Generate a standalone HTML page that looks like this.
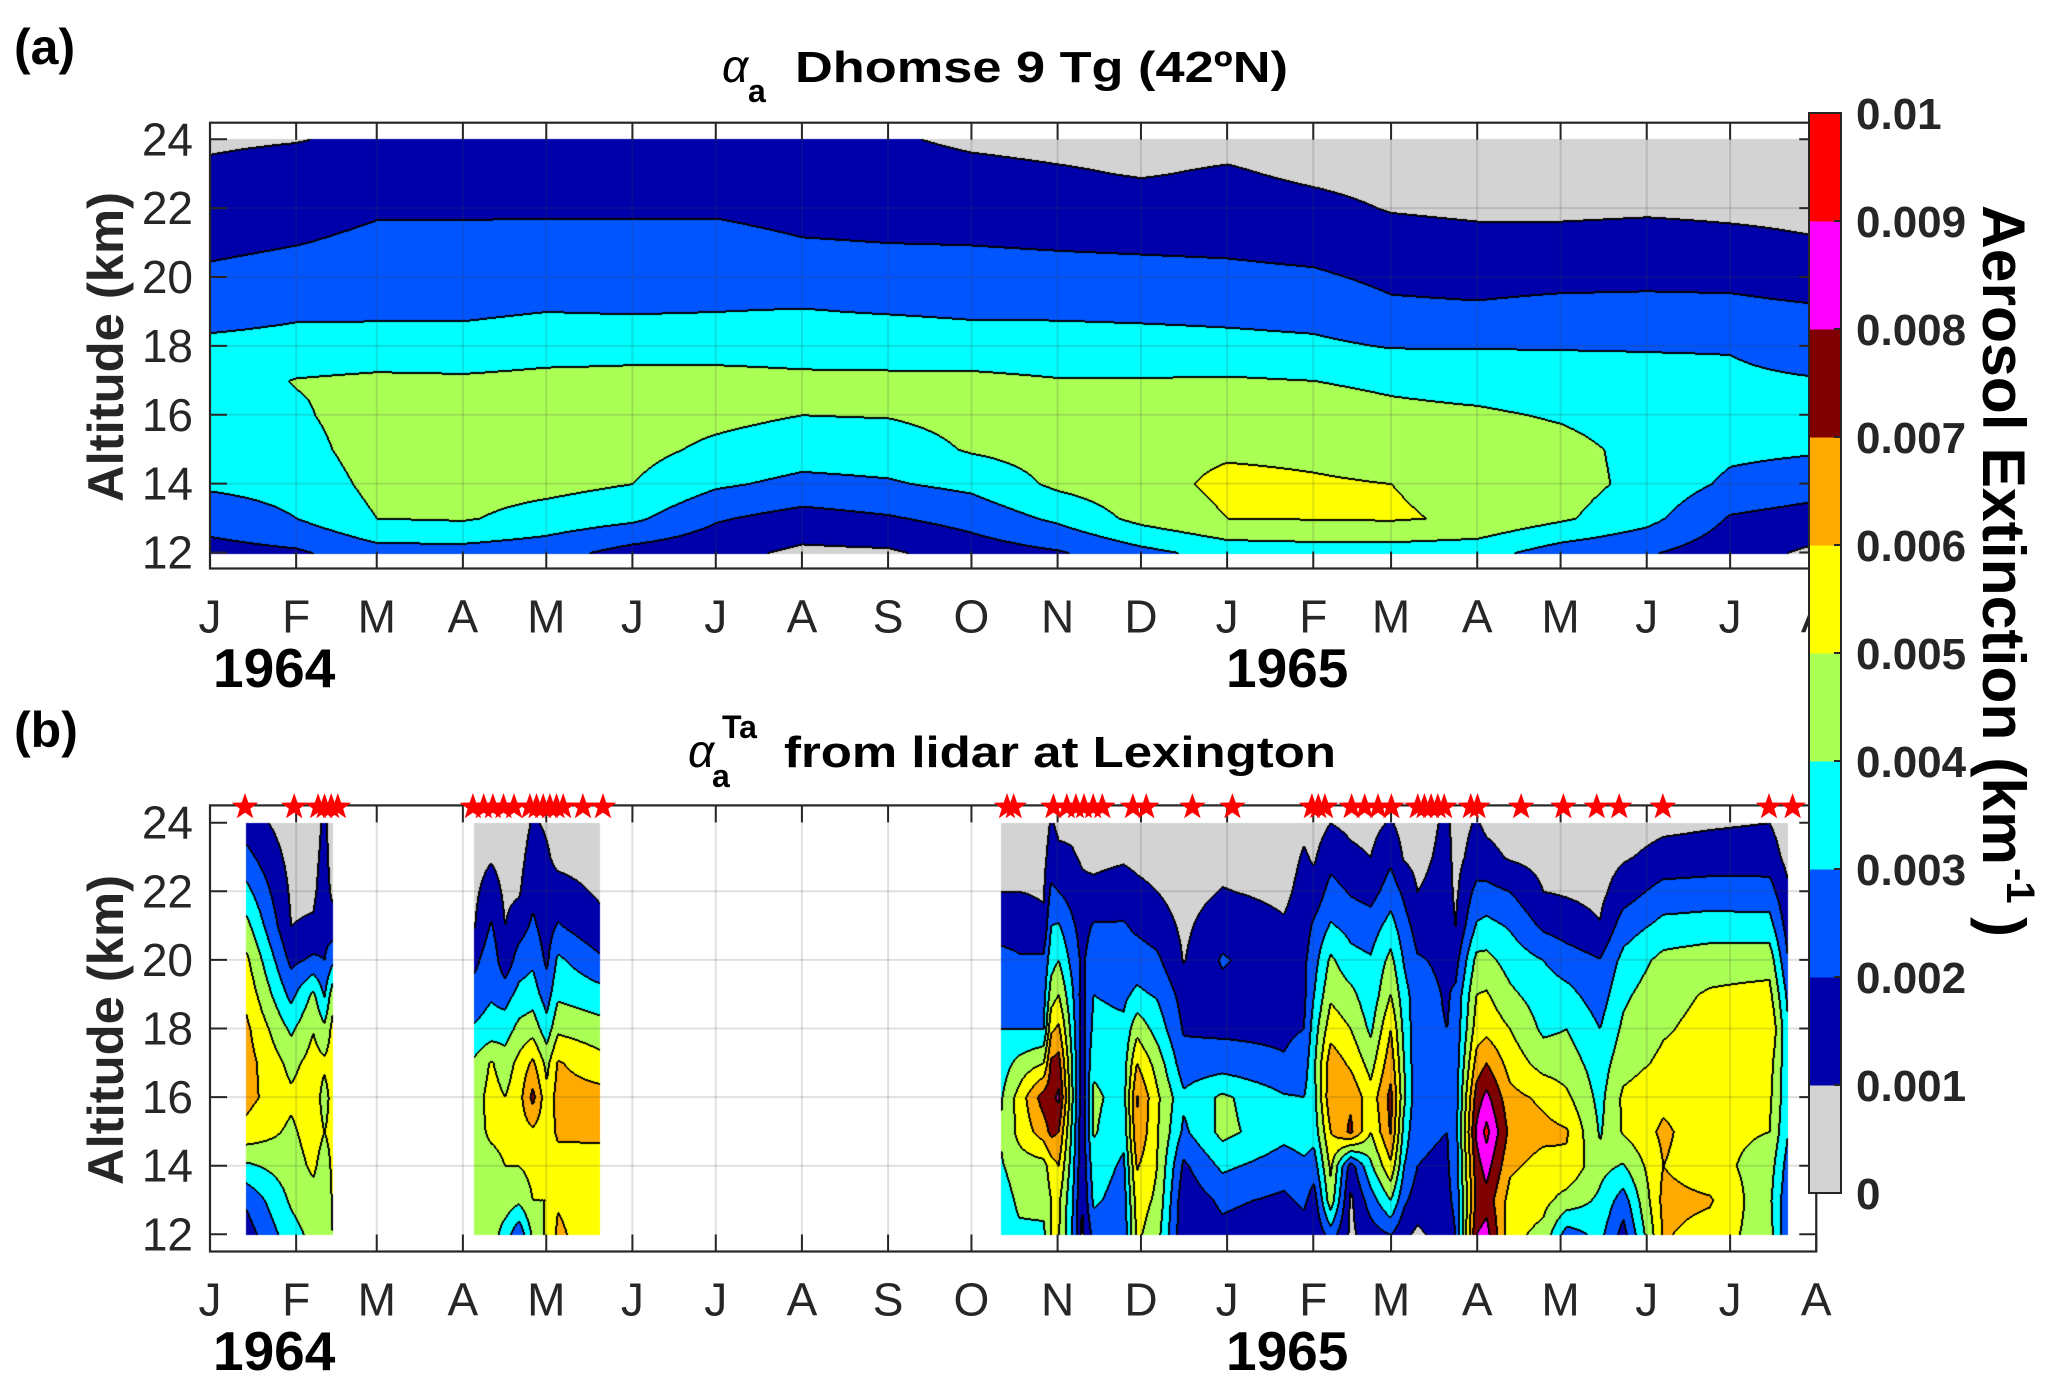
<!DOCTYPE html>
<html><head><meta charset="utf-8">
<style>
html,body{margin:0;padding:0;background:#fff;}
#wrap{position:relative;width:2067px;height:1388px;overflow:hidden;}
canvas,svg{position:absolute;left:0;top:0;}
text{font-family:"Liberation Sans",Arial,sans-serif;}
</style></head>
<body>
<div id="wrap">
<canvas id="cv" width="2067" height="1388"></canvas>
<svg id="sv" width="2067" height="1388" xmlns="http://www.w3.org/2000/svg">
  <g id="gridA"></g>
  <g id="gridB"></g>
  <g id="axesA"></g>
  <g id="axesB"></g>
  <g id="stars"></g>
  <g id="cbar"></g>

  <text x="14" y="64" font-size="50" font-weight="bold" fill="#000">(a)</text>
  <text x="14" y="747" font-size="50" font-weight="bold" fill="#000">(b)</text>

  <g>
    <text x="722" y="82" font-size="46" font-style="italic" font-family="Liberation Serif,serif" fill="#000">α</text>
    <text x="748" y="102" font-size="32" font-weight="bold" fill="#000">a</text>
    <text x="795" y="82" font-size="44" font-weight="bold" fill="#000" textLength="493" lengthAdjust="spacingAndGlyphs">Dhomse 9 Tg  (42ºN)</text>
  </g>
  <g>
    <text x="688" y="767" font-size="46" font-style="italic" font-family="Liberation Serif,serif" fill="#000">α</text>
    <text x="712" y="787" font-size="32" font-weight="bold" fill="#000">a</text>
    <text x="722" y="738" font-size="32" font-weight="bold" fill="#000">Ta</text>
    <text x="784" y="767" font-size="44" font-weight="bold" fill="#000" textLength="552" lengthAdjust="spacingAndGlyphs">from lidar at Lexington</text>
  </g>

  <text transform="translate(123,347) rotate(-90)" text-anchor="middle" font-size="50" font-weight="bold" fill="#262626" textLength="310" lengthAdjust="spacingAndGlyphs">Altitude (km)</text>
  <text transform="translate(123,1030) rotate(-90)" text-anchor="middle" font-size="50" font-weight="bold" fill="#262626" textLength="310" lengthAdjust="spacingAndGlyphs">Altitude (km)</text>

  <text x="213" y="687" font-size="55" font-weight="bold" fill="#000">1964</text>
  <text x="1226" y="687" font-size="55" font-weight="bold" fill="#000">1965</text>
  <text x="213" y="1370" font-size="55" font-weight="bold" fill="#000">1964</text>
  <text x="1226" y="1370" font-size="55" font-weight="bold" fill="#000">1965</text>

  <g transform="translate(1983,205) rotate(90)">
    <text x="0" y="0" font-size="60" font-weight="bold" fill="#000" textLength="660" lengthAdjust="spacingAndGlyphs">Aerosol Extinction (km</text>
    <text x="663" y="-24" font-size="40" font-weight="bold" fill="#000">-1</text>
    <text x="712" y="0" font-size="60" font-weight="bold" fill="#000">)</text>
  </g>
</svg>
</div>
<script>
// ---------------- data ----------------
const monthDays = [0,31,60,91,121,152,182,213,244,274,305,335,366,397,425,456,486,517,547,578];
const monthLabels = ['J','F','M','A','M','J','J','A','S','O','N','D','J','F','M','A','M','J','J','A'];
const altTicks = [12,14,16,18,20,22,24];
const cbarTicks = ['0','0.001','0.002','0.003','0.004','0.005','0.006','0.007','0.008','0.009','0.01'];
const levelColors = ['#D3D3D3','#0000AA','#0055FF','#00FFFF','#AAFF55','#FFFF00','#FFAA00','#800000','#FF00FF','#FF0000'];

// panel (a): model field, units 0.001 km^-1; each row = profile at 12..24 km
const aDays = [0,31,60,91,121,152,182,213,244,274,305,335,366,397,425,456,486,517,547,578];
const aValues = [
 [1.6,2.45,3.15,3.4,3.6,3.5,3.25,2.6,2.2,1.77,1.45,1.13,0.9],
 [1.85,3.0,3.3,3.6,3.85,4.05,3.35,2.85,2.4,1.97,1.63,1.3,0.97],
 [2.6,4.0,4.3,4.5,4.5,4.2,3.4,2.85,2.5,2.2,1.9,1.5,1.15],
 [2.6,4.1,4.4,4.55,4.5,4.15,3.4,2.85,2.5,2.2,1.9,1.5,1.15],
 [2.4,3.6,4.3,4.5,4.5,4.25,3.6,3.0,2.6,2.25,1.9,1.5,1.15],
 [1.6,3.2,4.0,4.3,4.4,4.25,3.7,2.95,2.6,2.25,1.9,1.5,1.15],
 [1.3,2.1,3.15,3.8,4.25,4.25,3.7,3.0,2.6,2.25,1.9,1.5,1.15],
 [0.8,1.6,2.75,3.45,4.0,4.15,3.7,3.05,2.55,2.05,1.75,1.45,1.15],
 [0.85,1.9,2.9,3.5,4.05,4.15,3.65,2.95,2.5,2.0,1.7,1.4,1.1],
 [1.5,2.35,3.25,4.1,4.3,4.2,3.5,2.85,2.4,1.97,1.6,1.25,0.85],
 [1.9,3.2,4.2,4.4,4.4,4.05,3.45,2.85,2.35,1.9,1.5,1.1,0.75],
 [2.7,4.3,4.6,4.7,4.6,4.05,3.4,2.8,2.3,1.85,1.4,0.95,0.7],
 [3.4,5.0,5.25,4.85,4.6,4.1,3.3,2.75,2.25,1.8,1.45,1.1,0.75],
 [3.5,5.05,5.1,4.8,4.5,4.0,3.2,2.65,2.15,1.65,1.25,0.85,0.6],
 [3.5,5.1,5.0,4.6,4.25,3.8,2.95,2.2,1.8,1.35,0.95,0.7,0.5],
 [3.4,4.85,4.7,4.6,4.15,3.6,2.95,2.15,1.7,1.25,0.85,0.65,0.5],
 [2.5,4.15,4.4,4.3,3.9,3.4,2.95,2.3,1.75,1.25,0.85,0.65,0.5],
 [2.1,3.3,3.7,3.7,3.55,3.25,2.95,2.3,1.8,1.3,0.9,0.65,0.5],
 [1.4,1.9,2.8,3.2,3.3,3.15,2.95,2.3,1.75,1.2,0.85,0.65,0.5],
 [0.8,1.55,2.45,3.1,3.2,3.05,2.6,2.15,1.5,1.05,0.8,0.6,0.5]
];

// panel (b): lidar field, three observation periods
const bSeg1Days = [13,29,37,41,44];
const bSeg1Values = [
 [1.5,2.2,3.8,5.7,6.3,6.4,6.2,5.7,5.2,4.3,3.3,2.3,1.5],
 [3.6,4.15,4.5,4.8,5.2,4.7,3.8,2.7,1.75,1.0,0.85,0.7,0.5],
 [4.3,4.6,5.2,5.5,5.6,5.4,4.95,4.2,2.2,1.1,0.85,0.7,0.5],
 [4.6,4.3,4.5,5.0,4.6,5.2,4.2,2.9,2.0,1.6,1.4,1.3,1.2],
 [5.0,5.1,5.2,5.3,5.4,5.5,5.3,4.6,2.8,1.4,0.8,0.6,0.5]
];
const bSeg2Days = [95,101,106,111,116,121,125,140];
const bSeg2Values = [
 [4.6,4.3,4.5,4.6,4.5,4.2,3.1,2.5,1.7,0.95,0.8,0.6,0.5],
 [4.6,4.4,4.6,5.2,5.4,5.1,3.4,2.9,2.7,2.1,1.5,0.9,0.6],
 [3.5,4.6,5.0,5.3,5.0,4.5,3.5,2.6,1.3,1.0,0.8,0.6,0.5],
 [2.2,4.2,5.0,5.5,5.6,5.3,4.3,3.3,2.5,1.5,0.9,0.7,0.5],
 [4.2,5.0,5.3,5.8,7.3,6.2,4.6,3.5,2.8,2.2,1.7,1.4,1.1],
 [5.2,5.0,5.2,5.4,5.3,4.7,3.4,2.5,1.8,1.5,1.3,1.1,0.9],
 [6.2,5.9,5.5,6.2,6.4,6.1,4.8,3.8,3.2,2.1,1.3,0.8,0.6],
 [5.3,5.4,5.6,6.2,6.4,5.4,4.4,3.4,2.2,1.2,0.9,0.7,0.5]
];
const bSeg3Days = [284.5,291,299.8,302.5,305.2,310,313.6,317.8,328.6,333.4,340.6,350.2,364.1,386.3,393.5,397.1,403.1,410.3,417.5,424.7,429.5,434.3,445,448,455.6,459.2,467.6,479.6,488,500,508.4,522.8,539.6,561,567.5];
const bSeg3Values = [
 [3.4,3.5,3.9,4.1,3.9,3.5,3.0,2.6,2.3,1.6,1.0,0.7,0.5],
 [3.8,4.2,4.5,5.3,5.4,4.3,3.0,2.5,2.1,1.6,1.0,0.7,0.5],
 [3.8,4.3,4.6,6.5,7.5,5.0,3.0,2.6,2.2,1.2,0.9,0.7,0.5],
 [5.0,5.0,5.5,7.3,7.7,7.2,5.8,4.5,3.6,3.0,2.2,1.5,1.1],
 [5.1,5.2,6.0,7.0,8.2,7.4,6.2,5.0,4.0,3.1,2.0,1.2,0.8],
 [3.0,3.2,3.5,3.8,4.2,4.0,3.6,3.2,2.7,2.2,1.6,1.1,0.8],
 [0.8,1.0,1.2,1.3,1.4,1.4,1.5,1.6,1.8,1.6,1.2,0.9,0.6],
 [2.3,3.2,3.6,4.1,4.2,3.8,3.3,3.0,2.6,2.1,1.2,0.8,0.6],
 [2.3,2.5,2.8,3.3,3.6,3.5,3.2,2.8,2.5,2.1,1.4,0.9,0.6],
 [5.2,5.5,6.1,6.9,7.1,6.0,4.7,3.2,2.5,1.8,1.2,0.8,0.6],
 [4.4,4.8,5.0,5.1,5.2,4.6,3.6,2.9,2.2,1.5,1.0,0.7,0.5],
 [1.2,1.3,1.8,2.8,3.2,2.4,1.9,1.6,0.95,0.8,0.6,0.5,0.4],
 [1.7,2.2,3.2,4.3,4.2,2.5,1.8,1.7,2.1,1.6,1.05,0.7,0.5],
 [1.3,1.8,2.5,3.3,3.1,2.1,1.8,1.6,1.4,1.1,0.8,0.6,0.5],
 [1.5,2.2,2.8,3.5,3.0,2.5,2.0,1.8,1.8,1.5,1.3,1.1,0.8],
 [1.0,1.5,2.5,3.4,3.7,3.8,3.5,3.0,2.6,2.2,1.3,0.9,0.6],
 [2.5,4.6,5.2,6.0,6.8,6.6,5.6,4.8,4.2,3.1,2.4,1.6,1.0],
 [0.8,0.8,1.5,7.2,6.8,5.8,5.0,4.3,3.3,2.7,1.9,1.2,0.8],
 [1.5,2.5,3.8,5.0,5.4,4.6,3.8,3.3,3.1,2.5,1.6,1.0,0.7],
 [2.0,4.0,5.8,7.1,7.3,6.6,6.0,5.0,4.3,3.4,2.5,1.8,1.1],
 [1.2,2.2,3.0,3.6,4.2,4.0,3.7,3.4,2.9,2.4,1.8,0.9,0.6],
 [0.8,1.5,2.0,2.1,2.2,2.2,2.3,2.4,2.1,1.6,1.0,0.7,0.5],
 [1.5,1.8,1.9,2.0,2.0,2.0,2.0,1.9,1.8,1.6,1.4,1.3,1.2],
 [2.0,2.2,2.4,2.5,2.5,2.4,2.3,2.2,1.6,1.0,0.8,0.7,0.6],
 [8.0,7.3,7.6,8.2,7.5,6.4,5.5,5.0,4.3,3.1,2.3,1.4,1.1],
 [8.4,7.6,8.4,9.3,8.3,7.0,5.7,5.1,4.3,3.3,2.3,1.3,0.8],
 [5.3,5.6,6.2,6.7,6.3,5.6,5.0,4.2,3.6,2.9,2.0,0.9,0.6],
 [4.7,5.3,5.6,6.3,5.8,4.6,3.8,3.5,3.0,1.8,1.0,0.7,0.5],
 [2.5,4.6,5.8,6.1,5.2,4.5,4.0,3.3,2.5,1.5,0.9,0.6,0.5],
 [3.3,3.8,4.3,3.9,3.7,3.5,3.0,2.5,2.05,1.05,0.75,0.6,0.5],
 [1.6,2.5,3.9,5.1,5.2,4.6,4.2,3.8,3.3,2.5,1.5,0.9,0.6],
 [6.1,6.3,6.0,6.2,5.7,5.2,4.9,4.7,4.3,3.3,2.4,1.3,0.8],
 [5.6,6.1,5.4,5.3,5.6,5.4,5.3,5.1,4.6,3.4,2.5,1.4,0.9],
 [4.4,4.2,4.5,5.0,5.2,5.4,6.0,5.3,4.6,3.4,2.4,1.5,1.0],
 [2.2,2.3,2.6,3.1,3.3,3.3,3.2,2.8,2.1,1.6,1.2,0.7,0.5]
];

// lidar observation dates (days since 1 Jan 1964)
const starDays = [12.6,30.3,38.9,41.2,43.6,46.0,94.6,98.5,101.8,105.6,109.4,115.1,117.5,119.9,122.3,124.7,127.1,134.2,141.4,286.8,289.2,303.5,308.3,311.6,314.5,317.8,321.1,332.1,336.9,353.5,367.9,396.5,398.8,401.2,410.8,415.5,420.3,425.1,434.6,437.0,439.4,441.8,444.1,453.7,456.1,471.8,487.0,499.0,507.1,522.8,561.0,569.5];

// ---------------- geometry ----------------
const X0 = 210, PX_PER_DAY = 2.779, X_END_DAY = 578;
function xScale(d){ return X0 + d*PX_PER_DAY; }
const panelA = {boxTop:122.7, boxBot:568.5, y24:139.3, y12:552.5};
const panelB = {boxTop:805.4, boxBot:1251.5, y24:822.7, y12:1234.3};
function yScale(p, alt){ return p.y24 + (24-alt)*(p.y12-p.y24)/12; }
const boxRight = xScale(X_END_DAY);

// ---------------- contour field ----------------
const cv = document.getElementById('cv');
const ctx = cv.getContext('2d');
const W = cv.width, H = cv.height;
const lev = new Int8Array(W*H).fill(-1);

function fieldAt(days, vals, d, alt){
  let i = 0;
  while (i < days.length-2 && d > days[i+1]) i++;
  const t = Math.max(0, Math.min(1, (d-days[i])/(days[i+1]-days[i])));
  let zf = alt-12; let j = Math.floor(zf); if (j<0) j=0; if (j>11) j=11;
  const u = Math.max(0, Math.min(1, zf-j));
  const a = vals[i][j]*(1-u) + vals[i][j+1]*u;
  const b = vals[i+1][j]*(1-u) + vals[i+1][j+1]*u;
  return a*(1-t) + b*t;
}
function fillField(p, days, vals){
  const xa = Math.round(xScale(days[0])), xb = Math.min(Math.round(xScale(days[days.length-1])), Math.round(boxRight)-1);
  const ya = Math.round(p.y24), yb = Math.round(p.y12);
  for (let x = xa; x <= xb; x++){
    const d = (x - X0)/PX_PER_DAY;
    for (let y = ya; y <= yb; y++){
      const alt = 24 - (y - p.y24)*12/(p.y12-p.y24);
      const v = fieldAt(days, vals, d, alt);
      let L = Math.floor(v); if (L<0) L=0; if (L>9) L=9;
      lev[y*W+x] = L;
    }
  }
}
fillField(panelA, aDays, aValues);
fillField(panelB, bSeg1Days, bSeg1Values);
fillField(panelB, bSeg2Days, bSeg2Values);
fillField(panelB, bSeg3Days, bSeg3Values);

const img = ctx.createImageData(W, H);
const rgb = levelColors.map(c => [parseInt(c.substr(1,2),16),parseInt(c.substr(3,2),16),parseInt(c.substr(5,2),16)]);
const black = new Uint8Array(W*H);
for (let y=0; y<H-1; y++){
  for (let x=0; x<W-1; x++){
    const k = y*W+x, L = lev[k];
    if (L<0) continue;
    const r = lev[k+1], dn = lev[k+W];
    if (r>=0 && r!==L){ black[k]=1; black[k+1]=1; }
    if (dn>=0 && dn!==L){ black[k]=1; black[k+W]=1; }
  }
}
for (let k=0; k<W*H; k++){
  const L = lev[k]; const o = k*4;
  if (L<0){ img.data[o]=255; img.data[o+1]=255; img.data[o+2]=255; img.data[o+3]=255; continue; }
  if (black[k]){ img.data[o]=0; img.data[o+1]=0; img.data[o+2]=0; }
  else { img.data[o]=rgb[L][0]; img.data[o+1]=rgb[L][1]; img.data[o+2]=rgb[L][2]; }
  img.data[o+3]=255;
}
ctx.putImageData(img, 0, 0);

// ---------------- svg overlay ----------------
const NS = 'http://www.w3.org/2000/svg';
function mk(tag, attrs, parent){
  const e = document.createElementNS(NS, tag);
  for (const k in attrs) e.setAttribute(k, attrs[k]);
  parent.appendChild(e); return e;
}
function drawAxes(p, gGrid, gAxes, tag){
  monthDays.forEach((d,i)=>{
    const x = xScale(d);
    if (i>0 && i<monthDays.length-1){
      const gl = mk('line',{x1:x,x2:x,y1:p.boxTop,y2:p.boxBot,stroke:'rgba(60,60,60,0.16)','stroke-width':2},gGrid);
      
      
    }
    const t1 = mk('line',{x1:x,x2:x,y1:p.boxTop,y2:p.boxTop+17,stroke:'#262626','stroke-width':2},gAxes);
    
    
    const t2 = mk('line',{x1:x,x2:x,y1:p.boxBot,y2:p.boxBot-17,stroke:'#262626','stroke-width':2},gAxes);
    
    
    const lb = mk('text',{x:x,y:p.boxBot+64,'text-anchor':'middle','font-size':46,fill:'#262626'},gAxes);
    lb.textContent = monthLabels[i];
    
    
  });
  altTicks.forEach(a=>{
    const y = yScale(p, a);
    if (a>12 && a<24){
      const gl = mk('line',{x1:X0,x2:boxRight,y1:y,y2:y,stroke:'rgba(60,60,60,0.16)','stroke-width':2},gGrid);
      
      
    }
    const tk = mk('line',{x1:X0,x2:X0+17,y1:y,y2:y,stroke:'#262626','stroke-width':2},gAxes);
    
    
    const tk2 = mk('line',{x1:boxRight,x2:boxRight-17,y1:y,y2:y,stroke:'#262626','stroke-width':2},gAxes);
    
    
    const lb = mk('text',{x:193,y:y+16,'text-anchor':'end','font-size':46,fill:'#262626'},gAxes);
    lb.textContent = String(a);
    
    
  });
  const box = mk('rect',{x:X0,y:p.boxTop,width:boxRight-X0,height:p.boxBot-p.boxTop,fill:'none',stroke:'#262626','stroke-width':2.2},gAxes);
  
  
}
drawAxes(panelA, document.getElementById('gridA'), document.getElementById('axesA'), 'panel-a');
drawAxes(panelB, document.getElementById('gridB'), document.getElementById('axesB'), 'panel-b');

// stars
const gS = document.getElementById('stars');
starDays.forEach(d=>{
  const cx = xScale(d), cy = 807, R = 14, r = 5.6;
  let pts = [];
  for (let k=0;k<10;k++){
    const ang = -Math.PI/2 + k*Math.PI/5, rr = (k%2===0)?R:r;
    pts.push((cx+rr*Math.cos(ang)).toFixed(1)+','+(cy+rr*Math.sin(ang)).toFixed(1));
  }
  const s = mk('polygon',{points:pts.join(' '),fill:'#FF0000'},gS);
  
  
});

// colorbar
const gC = document.getElementById('cbar');
const CB = {x:1809, w:32, top:113, bot:1193};
levelColors.forEach((c,i)=>{
  const h = (CB.bot-CB.top)/10;
  const rc = mk('rect',{x:CB.x,y:CB.bot-(i+1)*h,width:CB.w,height:h+0.5,fill:c},gC);
  
  
});
const cbBox = mk('rect',{x:CB.x,y:CB.top,width:CB.w,height:CB.bot-CB.top,fill:'none',stroke:'#262626','stroke-width':2},gC);


cbarTicks.forEach((t,i)=>{
  const y = CB.bot - i*(CB.bot-CB.top)/10;
  const tk = mk('line',{x1:CB.x+CB.w,x2:CB.x+CB.w-7,y1:y,y2:y,stroke:'#262626','stroke-width':2},gC);
  
  
  const lb = mk('text',{x:1856,y:y+16,'font-size':44,'font-weight':'bold',fill:'#262626'},gC);
  lb.textContent = t;
  
  
});
</script>
</body></html>
